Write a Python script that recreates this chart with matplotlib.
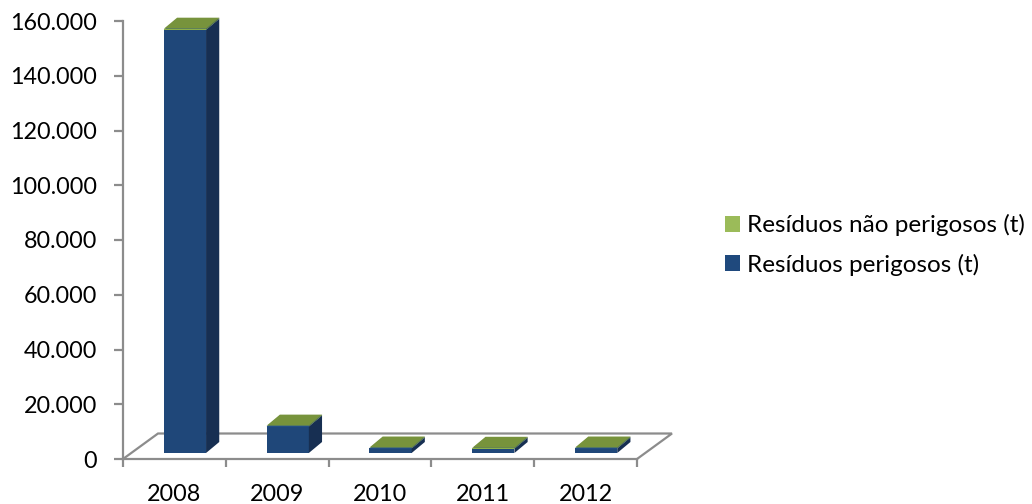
import numpy as np
import matplotlib.pyplot as plt
from matplotlib.patches import Polygon, Patch

anos = ['2008', '2009', '2010', '2011', '2012']
perigosos = [154600, 9700, 1700, 1600, 1700]
nao_perigosos = [400, 300, 300, 300, 300]
yticks = [0, 20000, 40000, 60000, 80000, 100000, 120000, 140000, 160000]
ytick_labels = ['0', '20.000', '40.000', '60.000', '80.000', '100.000',
                '120.000', '140.000', '160.000']
legenda = ['Resíduos não perigosos (t)', 'Resíduos perigosos (t)']

plt.rcParams['font.family'] = ['Lato', 'DejaVu Sans']

W, H = 1032, 504
fig = plt.figure(figsize=(W / 100, H / 100), dpi=100)
x0, x1, y0, y1 = 123, 637, 459, 21
ax = fig.add_axes([x0 / W, 1 - y0 / H, (x1 - x0) / W, (y0 - y1) / H])
ax.set_xlim(0, len(anos))
ax.set_ylim(0, 160000)

# pixel -> data unit conversions for the oblique depth
ux = len(anos) / (x1 - x0)
uy = 160000 / (y0 - y1)

grey = '#8c8c8c'
# floor (back line and side diagonals)
fdx, fdy = 35 * ux, 25.5 * uy
n = len(anos)
ax.plot([0, fdx, n + fdx, n], [0, fdy, fdy, 0], color=grey, lw=1.6,
        zorder=1, clip_on=False, solid_joinstyle='miter')

# bar geometry: front face offset and bar depth
ox, oy = 8 * ux, 6 * uy
bdx, bdy = 13.2 * ux, 11 * uy
largura = 0.41
esq = 0.32

frente = {'p': '#1f4779', 'n': '#8db04a'}
lado = {'p': '#172f52', 'n': '#5d7530'}
topo = {'p': '#2a5a94', 'n': '#77933c'}


def caixa(xl, b, t, k):
    xa, xb = xl + ox, xl + largura + ox
    ya, yb = b + oy, t + oy
    ax.add_patch(Polygon([(xa, ya), (xb, ya), (xb, yb), (xa, yb)],
                         closed=True, fc=frente[k], ec='none', zorder=3, clip_on=False))
    ax.add_patch(Polygon([(xb, ya), (xb + bdx, ya + bdy), (xb + bdx, yb + bdy), (xb, yb)],
                         closed=True, fc=lado[k], ec='none', zorder=3, clip_on=False))
    ax.add_patch(Polygon([(xa, yb), (xb, yb), (xb + bdx, yb + bdy), (xa + bdx, yb + bdy)],
                         closed=True, fc=topo[k], ec='none', zorder=3, clip_on=False))


for i in range(n):
    xl = i + esq
    caixa(xl, 0, perigosos[i], 'p')
    caixa(xl, perigosos[i], perigosos[i] + nao_perigosos[i], 'n')

for s in ['top', 'right']:
    ax.spines[s].set_visible(False)
for s in ['left', 'bottom']:
    ax.spines[s].set_color(grey)
    ax.spines[s].set_linewidth(1.6)
    ax.spines[s].set_zorder(4)

ax.set_yticks(yticks)
ax.set_yticklabels(ytick_labels)
ax.set_xticks(np.arange(n + 1))
ax.set_xticklabels([])
ax.set_xticks(np.arange(n) + 0.5, minor=True)
ax.set_xticklabels(anos, minor=True)
ax.tick_params(axis='y', length=6.5, width=1.6, color=grey, pad=12,
               labelsize=16.8, labelcolor='black')
ax.tick_params(axis='x', which='major', length=5.5, width=1.6, color=grey)
ax.tick_params(axis='x', which='minor', length=0, pad=18, labelsize=16.8,
               labelcolor='black')

handles = [Patch(fc='#9bbb59', ec='none'), Patch(fc='#1f497d', ec='none')]
fig.legend(handles, legenda, loc='center left', frameon=False,
           bbox_to_anchor=(725 / W, 1 - 245 / H), borderpad=0, borderaxespad=0,
           fontsize=17.5, handlelength=0.62, handleheight=0.62, handletextpad=0.3,
           labelspacing=0.72)

fig.savefig('out.png', dpi=100, facecolor='white')
